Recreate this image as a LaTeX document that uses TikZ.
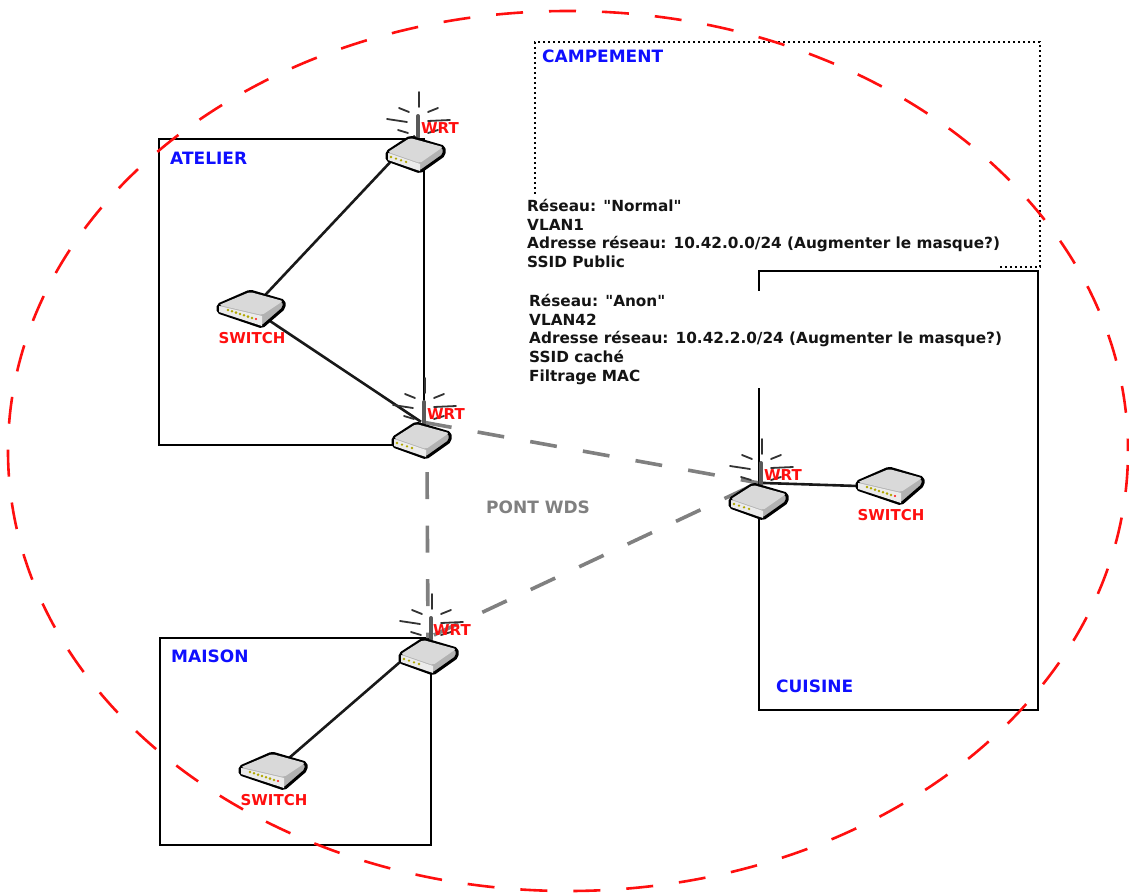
\documentclass[tikz,border=0pt]{standalone}
\usepackage{fontspec}
\setmainfont{DejaVu Sans}
\newfontfamily\netfont{DejaVu Sans}
\usepackage{tikz}
\usetikzlibrary{positioning}
\definecolor{zoneblue}{RGB}{15,15,255}
\definecolor{tagred}{RGB}{255,15,15}
\definecolor{bridgegray}{RGB}{128,128,128}
\tikzset{
    wrticon/.pic={
        % antenne et rayons
        \draw[line width=4pt, line cap=round, black!65] (3,-18) -- (3,-39);
        \foreach \ax/\ay/\bx/\by in {4/-63/4/-48, -16/-47/-6/-43, 13/-43/23/-47, -28/-36/-8/-33, 13/-34/35/-35, -17/-25/-7/-22, 13/-22/23/-25}
            \draw[line width=1.8pt, line cap=round, black!80] (\ax,\ay) -- (\bx,\by);
        % boitier
        \draw[line width=3pt, line join=round, rounded corners=2pt, fill=black!30] (-28,-3) -- (-5,-18) -- (29,-8) -- (29,0) -- (5,17) -- (-28,5) -- cycle;
        \fill[black!15, rounded corners=2pt] (-27,-3) -- (-5,-17) -- (28,-8) -- (5,8) -- cycle;
        \fill[black!8] (-27,-2) -- (5,9) -- (5,16) -- (-27,5) -- cycle;
        \foreach \px in {-24,-19,-14,-9}
            \fill[olive!70!yellow] (\px,{2+(\px+24)*0.33}) circle (1.3);
    },
    switchicon/.pic={
        \draw[line width=3pt, line join=round, rounded corners=2pt, fill=black!30] (-34,-4) -- (-2,-18) -- (32,-8) -- (32,-1) -- (10,18) -- (-34,3) -- cycle;
        \fill[black!15, rounded corners=2pt] (-33,-4) -- (-2,-17) -- (31,-8) -- (10,6) -- cycle;
        \fill[black!8] (-33,-3) -- (10,7) -- (10,17) -- (-33,3) -- cycle;
        \foreach \px in {-24,-20,-16,-12,-8,-4,0}
            \fill[olive!70!yellow] (\px,{1+(\px+24)*0.33}) circle (1.4);
        \fill[tagred] (4,10) circle (1.1);
    }
}
\begin{document}
\begin{tikzpicture}[
    x=1pt, y=-1pt,
    zonebox/.style={draw, line width=2.8pt, inner sep=0pt},
    zonetag/.style={font=\fontsize{17}{20}\bfseries, text=zoneblue, inner sep=0pt, anchor=west},
    devtag/.style={font=\fontsize{15}{18}\bfseries, text=tagred, inner sep=0pt},
    nettext/.style={font=\netfont\fontsize{15.3}{18.75}\selectfont\bfseries, align=left, fill=white, inner xsep=0pt, inner ysep=3pt, anchor=north west, text=black!92},
    wrtbox/.style={minimum width=58pt, minimum height=38pt, inner sep=0pt},
    switchbox/.style={minimum width=66pt, minimum height=38pt, inner sep=0pt},
    wire/.style={line width=2.6pt, black!90},
    bridge/.style={line width=3.6pt, bridgegray}
]
\useasboundingbox (0,0) rectangle (1129,894);

% zones
\node[zonebox, minimum width=265pt, minimum height=306pt] (atelier) at (291.5,292) {};
\node[zonebox, minimum width=271pt, minimum height=207pt] (maison) at (295.5,741.5) {};
\node[draw, line width=2.6pt, dash pattern=on 2.4pt off 2.6pt, minimum width=505pt, minimum height=225pt, inner sep=0pt] (campement) at (787.5,154.5) {};

\node[zonetag] (tagcamp) at (542,56) {CAMPEMENT};
\node[zonetag] (tagatelier) at (170,158) {ATELIER};
\node[zonetag] (tagmaison) at (171,656) {MAISON};
\node[zonetag] (tagcuisine) at (776,686) {CUISINE};

% reseaux
\node[nettext] (normal) at (527,196) {Réseau: "Normal"\\VLAN1\\Adresse réseau: 10.42.0.0/24 (Augmenter le masque?)\\SSID Public};
\node[zonebox, minimum width=279pt, minimum height=439pt] (cuisine) at (898.5,490.5) {};
\node[nettext] (anon) at (529,291) {Réseau: "Anon"\\VLAN42\\Adresse réseau: 10.42.2.0/24 (Augmenter le masque?)\\SSID caché\\Filtrage MAC};
\draw[tagred, line width=2.6pt, dash pattern=on 27pt off 26pt, dash phase=39pt] (568,451) ellipse (560 and 440);

% materiel
\node[wrtbox] (wrtA) at (415,155) {};
\node[wrtbox] (wrtB) at (421,441) {};
\node[wrtbox] (wrtC) at (758,502) {};
\node[wrtbox] (wrtD) at (428,657) {};
\node[switchbox] (swA) at (252,309) {};
\node[switchbox] (swB) at (891,486) {};
\node[switchbox] (swC) at (274,771) {};

% liens
\draw[wire] (wrtA.north) -- (swA.center);
\draw[wire] (swA.center) -- (wrtB.north);
\draw[wire] (wrtC.north) -- (swB.west);
\draw[wire] (wrtD.north) -- (swC.center);
\draw[bridge, dash pattern=on 27pt off 26.5pt, dash phase=49.5pt] (wrtB.north) -- (wrtC.north);
\draw[bridge, dash pattern=on 27pt off 26.5pt, dash phase=41.5pt] ([xshift=6pt]wrtB.south) -- (wrtD.north);
\draw[bridge, dash pattern=on 27pt off 26.5pt, dash phase=47pt] (wrtD.north) -- (wrtC.north);

\foreach \dev in {wrtA,wrtB,wrtC,wrtD}
    \pic at (\dev) {wrticon};
\foreach \dev in {swA,swB,swC}
    \pic at (\dev) {switchicon};

\node[devtag] (tagA) at ([shift={(25,-27)}]wrtA) {WRT};
\node[devtag] (tagB) at ([shift={(25,-27)}]wrtB) {WRT};
\node[devtag] (tagC) at ([shift={(25,-27)}]wrtC) {WRT};
\node[devtag] (tagD) at ([shift={(24,-27)}]wrtD) {WRT};
\node[devtag, below=4pt of swA] (labA) {SWITCH};
\node[devtag, below=4pt of swB] (labB) {SWITCH};
\node[devtag, below=4pt of swC] (labC) {SWITCH};

\node[font=\fontsize{17}{20}\bfseries, text=bridgegray, inner sep=0pt] (pont) at (538,507) {PONT WDS};
\end{tikzpicture}
\end{document}
